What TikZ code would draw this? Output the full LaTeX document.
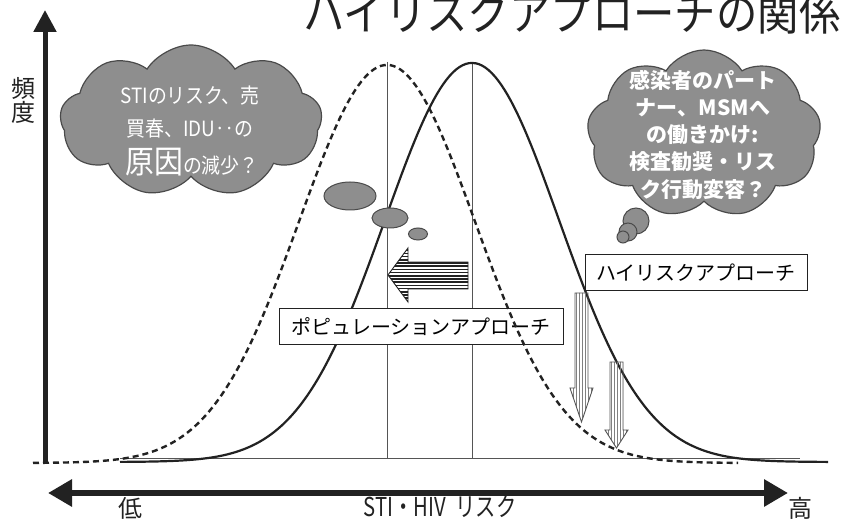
\documentclass[tikz,border=0pt]{standalone}
\usepackage{graphicx}
\usepackage{fontspec}
\setmainfont{Noto Sans CJK JP}
\usetikzlibrary{shapes.symbols,shapes.geometric,arrows.meta}
\definecolor{cloudfill}{HTML}{8E8E8E}
\definecolor{cloudline}{HTML}{4A4A4A}
\definecolor{guidecol}{HTML}{555555}
\definecolor{inkcol}{HTML}{222222}
\begin{document}
\begin{tikzpicture}[x=1pt,y=-1pt,
  cloudshape/.style={cloud, cloud puffs=9, cloud puff arc=115, draw=cloudline, fill=cloudfill, line width=1.2pt, inner sep=0pt},
  bubble/.style={ellipse, draw=cloudline, fill=cloudfill, line width=1pt, inner sep=0pt},
  puff/.style={circle, draw=cloudline, fill=cloudfill, line width=1pt, inner sep=0pt},
  cloudtext/.style={text=white, font=\fontsize{21pt}{21pt}\selectfont, inner sep=0pt},
  cloudtextb/.style={text=white, font=\fontsize{21pt}{21pt}\selectfont\bfseries, inner sep=0pt},
  labelbox/.style={draw=inkcol, fill=white, line width=1pt, font=\fontsize{20pt}{20pt}\selectfont, inner sep=0pt, minimum height=36pt},
  axisarrow/.style={line width=5pt, draw=inkcol, -{Triangle[length=22pt,width=22pt]}},
  riskarrow/.style={line width=6pt, draw=inkcol, {Triangle[length=24pt,width=26pt]}-{Triangle[length=24pt,width=26pt]}},
  guide/.style={draw=guidecol, line width=0.8pt},
  bell/.style={line width=2.2pt, draw=inkcol},
  dbell/.style={line width=2.4pt, draw=inkcol, dash pattern=on 6pt off 4pt},
  axislabel/.style={font=\fontsize{24pt}{24pt}\selectfont, inner sep=0pt, text=inkcol},
]
\fill[white] (0,0) rectangle (844,521);
\useasboundingbox (0,0) rectangle (844,521);

% title (cut at the right edge, as in the reference)
\begin{scope}
\clip (0,0) rectangle (844,521);
\node[anchor=base west, inner sep=0pt, font=\fontsize{46pt}{46pt}\selectfont, text=inkcol] (title) at (303,31) {\scalebox{0.9}[1]{ハイリスクアプローチの関係}};
\end{scope}

% vertical axis
\coordinate (ybot) at (45,463);
\coordinate (ytop) at (45,10);
\draw[axisarrow] (ybot) -- (ytop);
\node[axislabel] (hin) at (23,88) {頻};
\node[axislabel] (do) at (23,112) {度};

% baseline and peak guides
\coordinate (bl) at (120,458);
\coordinate (br) at (800,458);
\draw[guide] (bl) -- (br);
\coordinate (pd) at (387,62);
\coordinate (pdb) at (387,458);
\coordinate (ps) at (472,63);
\coordinate (psb) at (472,458);
\draw[guide] (pd) -- (pdb);
\draw[guide] (ps) -- (psb);

% solid bell curve
\draw[bell] plot[domain=120:828, samples=220] (\x, {462 - 399*exp(-0.5*((\x-472)/87)^2)});

% left cloud
\node[cloudshape, minimum width=262pt, minimum height=152pt] (lcloud) at (191,121) {};
\node[bubble, minimum width=52pt, minimum height=28pt] (lb1) at (350,196) {};
\node[bubble, minimum width=36pt, minimum height=20pt] (lb2) at (390,218) {};
\node[bubble, minimum width=19pt, minimum height=12pt] (lb3) at (418,234) {};
\node[cloudtext] (lt1) at (190,96) {\scalebox{0.9}[1]{STIのリスク、売}};
\node[cloudtext] (lt2) at (190,129) {\scalebox{0.9}[1]{買春、IDU‥の}};
\node[cloudtext] (lt3) at (192,162) {\scalebox{0.9}[1]{{\fontsize{32pt}{32pt}\selectfont 原因}の減少？}};

% right cloud
\node[puff, minimum size=26pt] (rp1) at (636,221) {};
\node[cloudshape, minimum width=234pt, minimum height=168pt] (rcloud) at (704,134) {};
\node[puff, minimum size=18pt] (rp2) at (628,232) {};
\node[puff, minimum size=12pt] (rp3) at (623,237) {};
\node[cloudtextb] (rt1) at (703,80) {感染者のパート};
\node[cloudtextb] (rt2) at (703,108) {ナー、MSMへ};
\node[cloudtextb] (rt3) at (703,135) {の働きかけ:};
\node[cloudtextb] (rt4) at (703,162) {検査勧奨・リス};
\node[cloudtextb] (rt5) at (703,190) {ク行動変容？};

% labels
\node[labelbox, minimum width=284pt] (pop) at (421,327) {ポピュレーションアプローチ};
\node[labelbox, minimum width=222pt] (hr) at (696,273) {ハイリスクアプローチ};

% dashed bell curve (drawn over the population box)
\draw[dbell] plot[domain=33:738, samples=220] (\x, {463 - 398*exp(-0.5*((\x-387)/88)^2)});

% striped arrow pointing left
\begin{scope}
\clip (388,275) -- (408,248) -- (408,262) -- (468,262) -- (468,289) -- (408,289) -- (408,302) -- cycle;
\foreach \yy in {247,250.2,...,304} \draw[line width=1.6pt, draw=inkcol] (385,\yy) -- (470,\yy);
\end{scope}
\draw[line width=0.9pt, draw=inkcol] (388,275) -- (408,248) -- (408,262) -- (468,262) -- (468,289) -- (408,289) -- (408,302) -- cycle;

% hollow striped down arrows
\begin{scope}
\clip (575,293) -- (588,293) -- (588,388) -- (593,388) -- (581.5,422) -- (570,388) -- (575,388) -- cycle;
\foreach \xx in {570,573,...,594} \draw[line width=1pt, draw=gray] (\xx,290) -- (\xx,425);
\end{scope}
\draw[line width=0.9pt, draw=guidecol] (575,293) -- (588,293) -- (588,388) -- (593,388) -- (581.5,422) -- (570,388) -- (575,388) -- cycle;
\begin{scope}
\clip (610,362) -- (623,362) -- (623,430) -- (628,430) -- (616.5,448) -- (605,430) -- (610,430) -- cycle;
\foreach \xx in {605,608,...,629} \draw[line width=1pt, draw=gray] (\xx,360) -- (\xx,450);
\end{scope}
\draw[line width=0.9pt, draw=guidecol] (610,362) -- (623,362) -- (623,430) -- (628,430) -- (616.5,448) -- (605,430) -- (610,430) -- cycle;

% horizontal risk axis
\coordinate (xl) at (48,493);
\coordinate (xr) at (788,493);
\draw[riskarrow] (xl) -- (xr);
\node[axislabel] (low) at (130,508) {低};
\node[axislabel] (high) at (800,508) {高};
\node[axislabel, font=\fontsize{26pt}{26pt}\selectfont] (risk) at (440,507) {\scalebox{0.78}[1]{STI・HIV\hspace{12pt}リスク}};
\end{tikzpicture}
\end{document}
